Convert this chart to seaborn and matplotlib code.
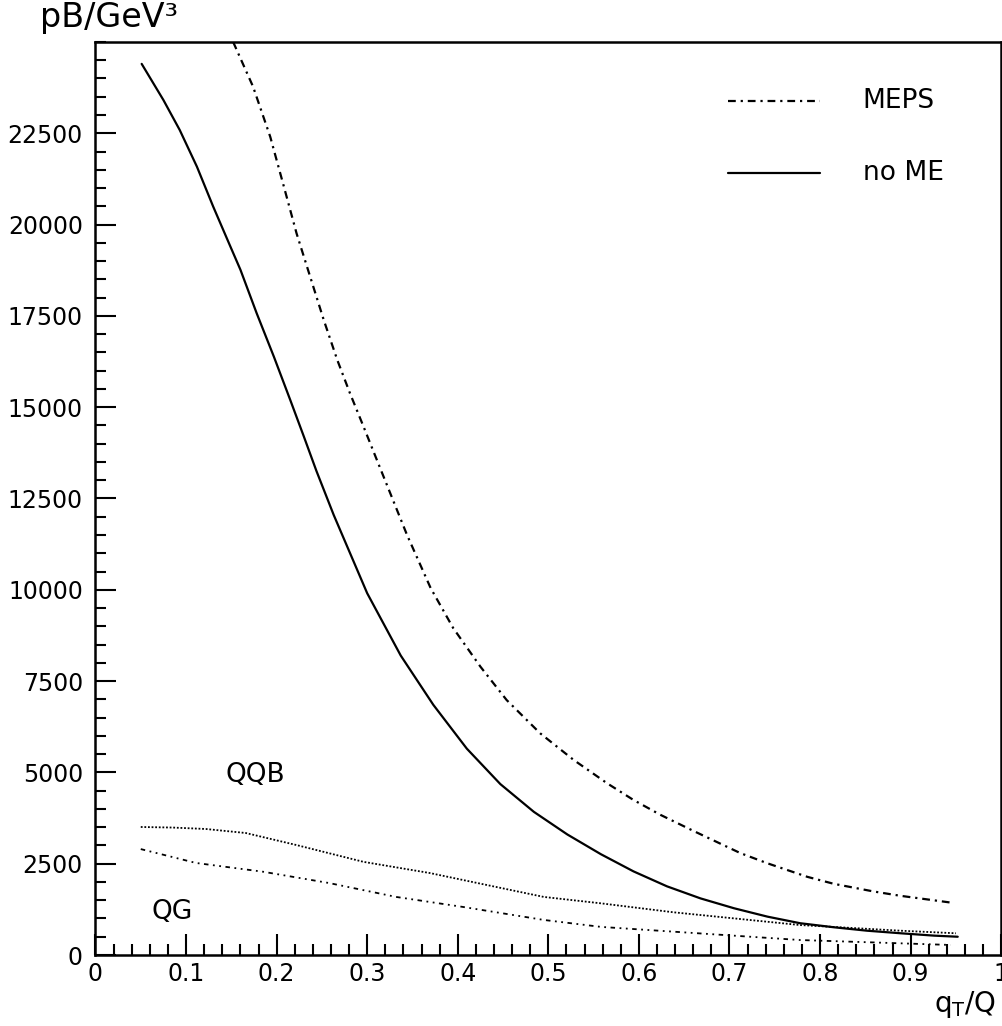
import matplotlib
matplotlib.use("Agg")
import matplotlib.pyplot as plt
import seaborn as sns
from matplotlib.ticker import MultipleLocator

# ---- data ----
x_noME = [0.051, 0.075, 0.093, 0.112, 0.130, 0.149, 0.160, 0.178, 0.197, 0.215,
          0.230, 0.244, 0.263, 0.300, 0.337, 0.373, 0.410, 0.447, 0.484, 0.521,
          0.558, 0.594, 0.631, 0.668, 0.705, 0.742, 0.778, 0.815, 0.852, 0.889,
          0.926, 0.952]
y_noME = [24400, 23410, 22590, 21585, 20490, 19395, 18765, 17570, 16380, 15200,
          14200, 13250, 12050, 9905, 8200, 6850, 5650, 4680, 3920, 3300,
          2760, 2290, 1880, 1550, 1280, 1050, 870, 760, 665, 595,
          530, 500]

x_MEPS = [0.152, 0.174, 0.193, 0.208, 0.222, 0.237, 0.252, 0.267, 0.281, 0.296,
          0.314, 0.344, 0.370, 0.395, 0.425, 0.454, 0.491, 0.528, 0.565,
          0.594, 0.624, 0.660, 0.712, 0.742, 0.786, 0.815, 0.859, 0.889, 0.946]
y_MEPS = [25000, 23775, 22400, 21040, 19760, 18575, 17390, 16290, 15380, 14465,
          13350, 11500, 10050, 8950, 7895, 6980, 6070, 5340, 4700,
          4245, 3835, 3400, 2790, 2510, 2140, 1950, 1740, 1620, 1430]

x_QQB = [0.050, 0.085, 0.122, 0.166, 0.222, 0.296, 0.369, 0.442, 0.495, 0.558,
         0.638, 0.668, 0.778, 0.889, 0.950]
y_QQB = [3505, 3490, 3450, 3340, 3010, 2550, 2245, 1865, 1590, 1415,
         1170, 1095, 820, 665, 595]

x_QG = [0.050, 0.111, 0.185, 0.258, 0.332, 0.406, 0.495, 0.558, 0.668, 0.778, 0.944]
y_QG = [2900, 2520, 2280, 1970, 1590, 1315, 960, 770, 590, 410, 275]

y_ticks = [0, 2500, 5000, 7500, 10000, 12500, 15000, 17500, 20000, 22500]
x_ticks = [0, 0.1, 0.2, 0.3, 0.4, 0.5, 0.6, 0.7, 0.8, 0.9, 1]
x_ticklabels = ["0", "0.1", "0.2", "0.3", "0.4", "0.5", "0.6", "0.7", "0.8", "0.9", "1"]

legend_labels = ["MEPS", "no ME"]

# ---- plot ----
sns.set_theme(style="ticks")
plt.rcParams["font.family"] = ["DejaVu Sans"]

fig = plt.figure(figsize=(10.03, 10.26), dpi=100)
ax = fig.add_axes([0.0952, 0.0692, 0.9030, 0.8899])

lw = 1.6
c = "black"
meps_dash = [3.5, 2.2, 1.0, 2.2]
sns.lineplot(x=x_noME, y=y_noME, ax=ax, color=c, lw=lw)
sns.lineplot(x=x_MEPS, y=y_MEPS, ax=ax, color=c, lw=lw)
sns.lineplot(x=x_QQB, y=y_QQB, ax=ax, color=c, lw=1.3)
sns.lineplot(x=x_QG, y=y_QG, ax=ax, color=c, lw=1.3)
lines = ax.get_lines()
lines[1].set_dashes(meps_dash)
lines[2].set_dashes([1, 1])
lines[3].set_dashes([2.5, 2.5, 1, 2.5, 1, 2.5])
for ln in lines:
    ln.set_solid_joinstyle("round")

ax.set_xlim(0, 1)
ax.set_ylim(0, 25000)
ax.set_xticks(x_ticks)
ax.set_xticklabels(x_ticklabels)
ax.set_yticks(y_ticks)
ax.xaxis.set_minor_locator(MultipleLocator(0.02))
ax.yaxis.set_minor_locator(MultipleLocator(500))
ax.tick_params(which="both", direction="in", top=False, right=False, color=c,
               labelsize=17, width=1.5, labelcolor=c)
ax.tick_params(which="major", length=15)
ax.tick_params(which="minor", length=8)
ax.tick_params(axis="y", pad=9)
ax.tick_params(axis="x", pad=5)
for s in ax.spines.values():
    s.set_visible(True)
    s.set_linewidth(1.8)
    s.set_color(c)
ax.set_xlabel("")
ax.set_ylabel("")

# legend drawn manually in axes coordinates
ax.plot([0.698, 0.800], [0.935, 0.935], transform=ax.transAxes, color=c, lw=lw,
        dashes=meps_dash)
ax.plot([0.698, 0.800], [0.857, 0.857], transform=ax.transAxes, color=c, lw=lw)
ax.text(0.847, 0.935, legend_labels[0], transform=ax.transAxes, fontsize=19,
        va="center", ha="left", color=c)
ax.text(0.847, 0.857, legend_labels[1], transform=ax.transAxes, fontsize=19,
        va="center", ha="left", color=c)

ax.text(0.144, 4930, "QQB", fontsize=19, va="center", ha="left", color=c)
ax.text(0.062, 1180, "QG", fontsize=19, va="center", ha="left", color=c)

fig.text(40 / 1003, 1 - 18 / 1026, "pB/GeV³", fontsize=24, va="center", ha="left",
         color=c)
fig.text(996 / 1003, 1 - 1005 / 1026, r"q$_\mathregular{T}$/Q", fontsize=20,
         va="center", ha="right", color=c)

fig.savefig("out.png", dpi=100, facecolor="white")
